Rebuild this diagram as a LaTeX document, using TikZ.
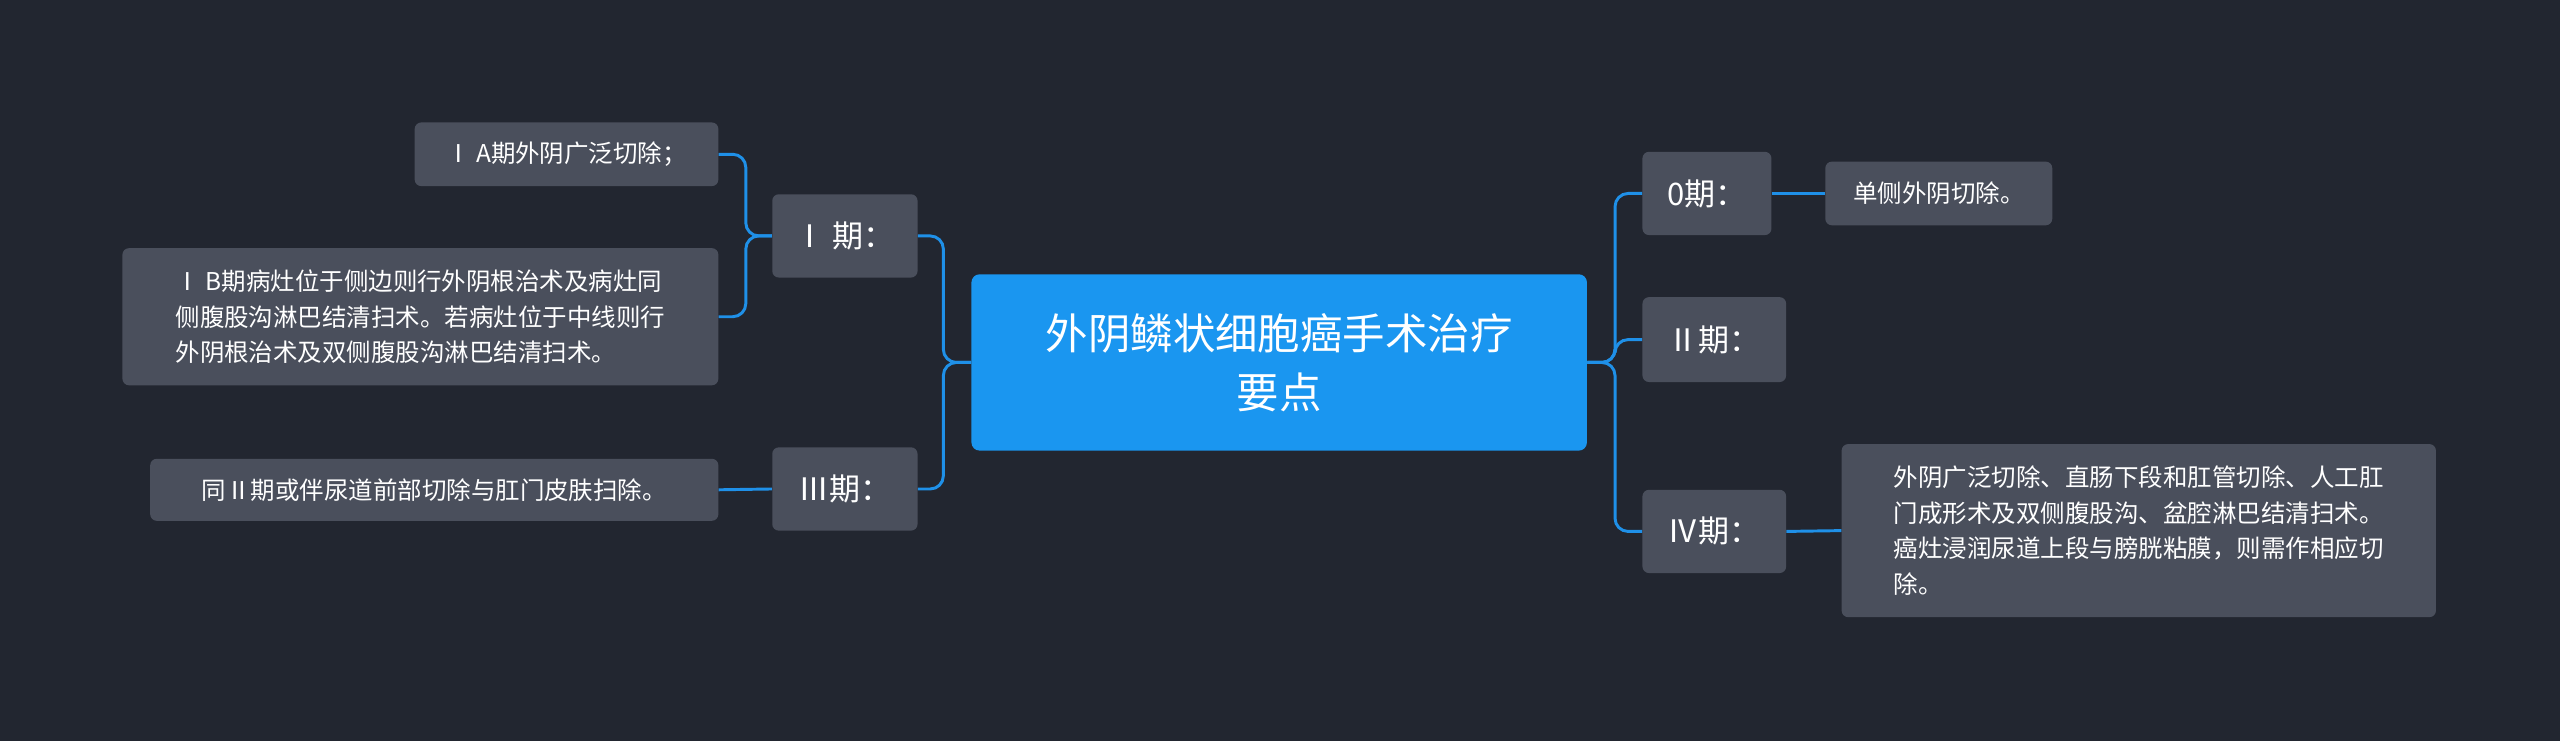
\documentclass[tikz,border=0pt]{standalone}
\usepackage{fontspec}
\setmainfont{Noto Sans CJK SC}
\usetikzlibrary{calc}
\definecolor{bg}{HTML}{222630}
\definecolor{box}{HTML}{4A4F5C}
\definecolor{main}{HTML}{1A96F0}
\definecolor{ln}{HTML}{1F90E8}
\tikzset{
 leaf/.style={fill=box,rounded corners=4pt,text=white,font=\fontsize{15}{22}\selectfont,align=left,inner sep=0pt,anchor=center},
 mid/.style={fill=box,rounded corners=4pt,text=white,font=\fontsize{19}{24}\selectfont,inner sep=0pt,anchor=center},
 conn/.style={draw=ln,line width=1.8pt,rounded corners=8pt},
}
\begin{document}
\begin{tikzpicture}[x=1pt,y=-1pt]
\fill[bg] (0,0) rectangle (1568,454);
\useasboundingbox (0,0) rectangle (1568,454);
\node[fill=main,rounded corners=5pt,text=white,font=\fontsize{26}{36}\selectfont,align=center,minimum width=377pt,minimum height=108pt,inner sep=0pt] (c) at (783.5,222) {外阴鳞状细胞癌手术治疗\\要点};
\node[mid,minimum width=89pt,minimum height=51pt] (i) at (517.5,144.5) {Ⅰ 期：};
\node[mid,minimum width=89pt,minimum height=51pt] (iii) at (517.5,299.5) {Ⅲ期：};
\node[leaf,minimum width=186pt,minimum height=39pt,align=center] (ia) at (347,94.5) {Ⅰ A期外阴广泛切除；};
\node[leaf,minimum width=365pt,minimum height=84pt] (ib) at (257.5,194) {Ⅰ B期病灶位于侧边则行外阴根治术及病灶同\\侧腹股沟淋巴结清扫术。若病灶位于中线则行\\外阴根治术及双侧腹股沟淋巴结清扫术。};
\node[leaf,minimum width=348pt,minimum height=38pt,align=center] (il) at (266,300) {同Ⅱ期或伴尿道前部切除与肛门皮肤扫除。};
\node[mid,minimum width=79pt,minimum height=51pt] (z) at (1045.5,118.5) {0期：};
\node[mid,minimum width=88pt,minimum height=52pt] (ii) at (1050,208) {Ⅱ期：};
\node[mid,minimum width=88pt,minimum height=51pt] (iv) at (1050,325.5) {Ⅳ期：};
\node[leaf,minimum width=139pt,minimum height=39pt,align=center] (zl) at (1187.5,118.5) {单侧外阴切除。};
\node[leaf,minimum width=364pt,minimum height=106pt] (ivl) at (1310,325) {外阴广泛切除、直肠下段和肛管切除、人工肛\\门成形术及双侧腹股沟、盆腔淋巴结清扫术。\\癌灶浸润尿道上段与膀胱粘膜，则需作相应切\\除。};
\draw[conn] (c.west) -- ($(c.west)+(-17,0)$) |- (i.east);
\draw[conn] (c.west) -- ($(c.west)+(-17,0)$) |- (iii.east);
\draw[conn] (i.west) -- ($(i.west)+(-16,0)$) |- (ia.east);
\draw[conn] (i.west) -- ($(i.west)+(-16,0)$) |- (ib.east);
\draw[conn] (iii.west) -- (il.east);
\draw[conn] (c.east) -- ($(c.east)+(17,0)$) |- (z.west);
\draw[conn] (c.east) -- ($(c.east)+(17,0)$) |- (ii.west);
\draw[conn] (c.east) -- ($(c.east)+(17,0)$) |- (iv.west);
\draw[conn] (z.east) -- (zl.west);
\draw[conn] (iv.east) -- (ivl.west);
\end{tikzpicture}
\end{document}
